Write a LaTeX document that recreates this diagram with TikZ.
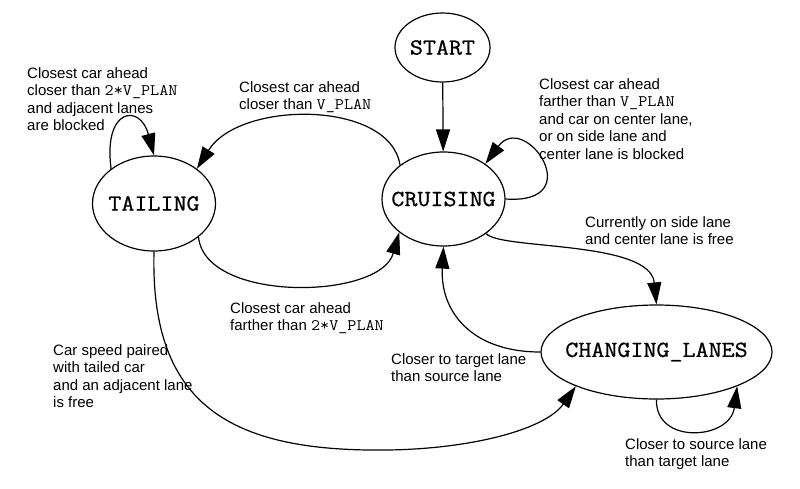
\documentclass[tikz,border=0pt]{standalone}
\usepackage{fontspec}
\setmainfont{Liberation Sans}
\setmonofont{Latin Modern Mono}[FakeStretch=1.1,Scale=1.07]
\newfontfamily\statefont{Latin Modern Mono}[FakeStretch=1.1,FakeBold=0.8]
\usetikzlibrary{arrows.meta,shapes.geometric}
\begin{document}
\begin{tikzpicture}[x=1pt,y=-1pt,
  state/.style={draw,ellipse,line width=1.2pt,inner sep=0pt,font=\fontsize{23}{25}\selectfont\statefont},
  edge/.style={draw,line width=1.2pt,-{Triangle[length=22pt,width=14pt]}},
  lbl/.style={anchor=base west,align=left,inner sep=0pt,font=\fontsize{15}{17.6}\selectfont}]
\useasboundingbox[fill=white] (0,0) rectangle (800,488);
% states
\node[state,minimum width=95pt,minimum height=69pt] (start) at (442.5,47.5) {\makebox[0pt]{START}};
\node[state,minimum width=123pt,minimum height=94pt] (cru) at (443.5,199) {\makebox[0pt]{CRUISING}};
\node[state,minimum width=123pt,minimum height=95pt] (tail) at (154,203.5) {\makebox[0pt]{TAILING}};
\node[state,minimum width=231pt,minimum height=94pt] (cl) at (656.5,352) {\makebox[0pt]{CHANGING\_LANES}};
% edges
\draw[edge] (start) -- (cru);
\draw[edge] (tail.141) .. controls (103,108) and (140,103) .. (tail.north);
\draw[edge] (cru.142) .. controls (390,100) and (240,100) .. (tail.39.5);
\draw[edge] (tail.-37) .. controls (205,303) and (380,300) .. (cru.217);
\draw[edge] (cru.east) .. controls (590,205) and (525,110) .. (cru.40);
\draw[edge] (cru.-39) .. controls (500,250) and (650,240) .. (cl.north);
\draw[edge] (cl.west) .. controls (470,352) and (440,310) .. (cru.south);
\draw[edge] (tail.south) .. controls (150,405) and (230,452) .. (387,450) .. controls (470,449) and (545,430) .. (cl.203);
\draw[edge] (cl.south) .. controls (655,445) and (730,440) .. (cl.-23.5);
% labels (anchor = baseline of the last line)
\node[lbl] (lA) at (27,130.8) {Closest car ahead\\closer than \texttt{2*V\_PLAN}\\and adjacent lanes\\are blocked};
\node[lbl] (lB) at (239,109.6) {Closest car ahead\\closer than \texttt{V\_PLAN}};
\node[lbl] (lC) at (230,330.6) {Closest car ahead\\farther than \texttt{2*V\_PLAN}};
\node[lbl] (lD) at (539,159.4) {Closest car ahead\\farther than \texttt{V\_PLAN}\\and car on center lane,\\or on side lane and\\center lane is blocked};
\node[lbl] (lE) at (585,244.6) {Currently on side lane\\and center lane is free};
\node[lbl] (lF) at (391,381.6) {Closer to target lane\\than source lane};
\node[lbl] (lG) at (53,407.8) {Car speed paired\\with tailed car\\and an adjacent lane\\is free};
\node[lbl] (lH) at (625,466.6) {Closer to source lane\\than target lane};
\end{tikzpicture}
\end{document}
